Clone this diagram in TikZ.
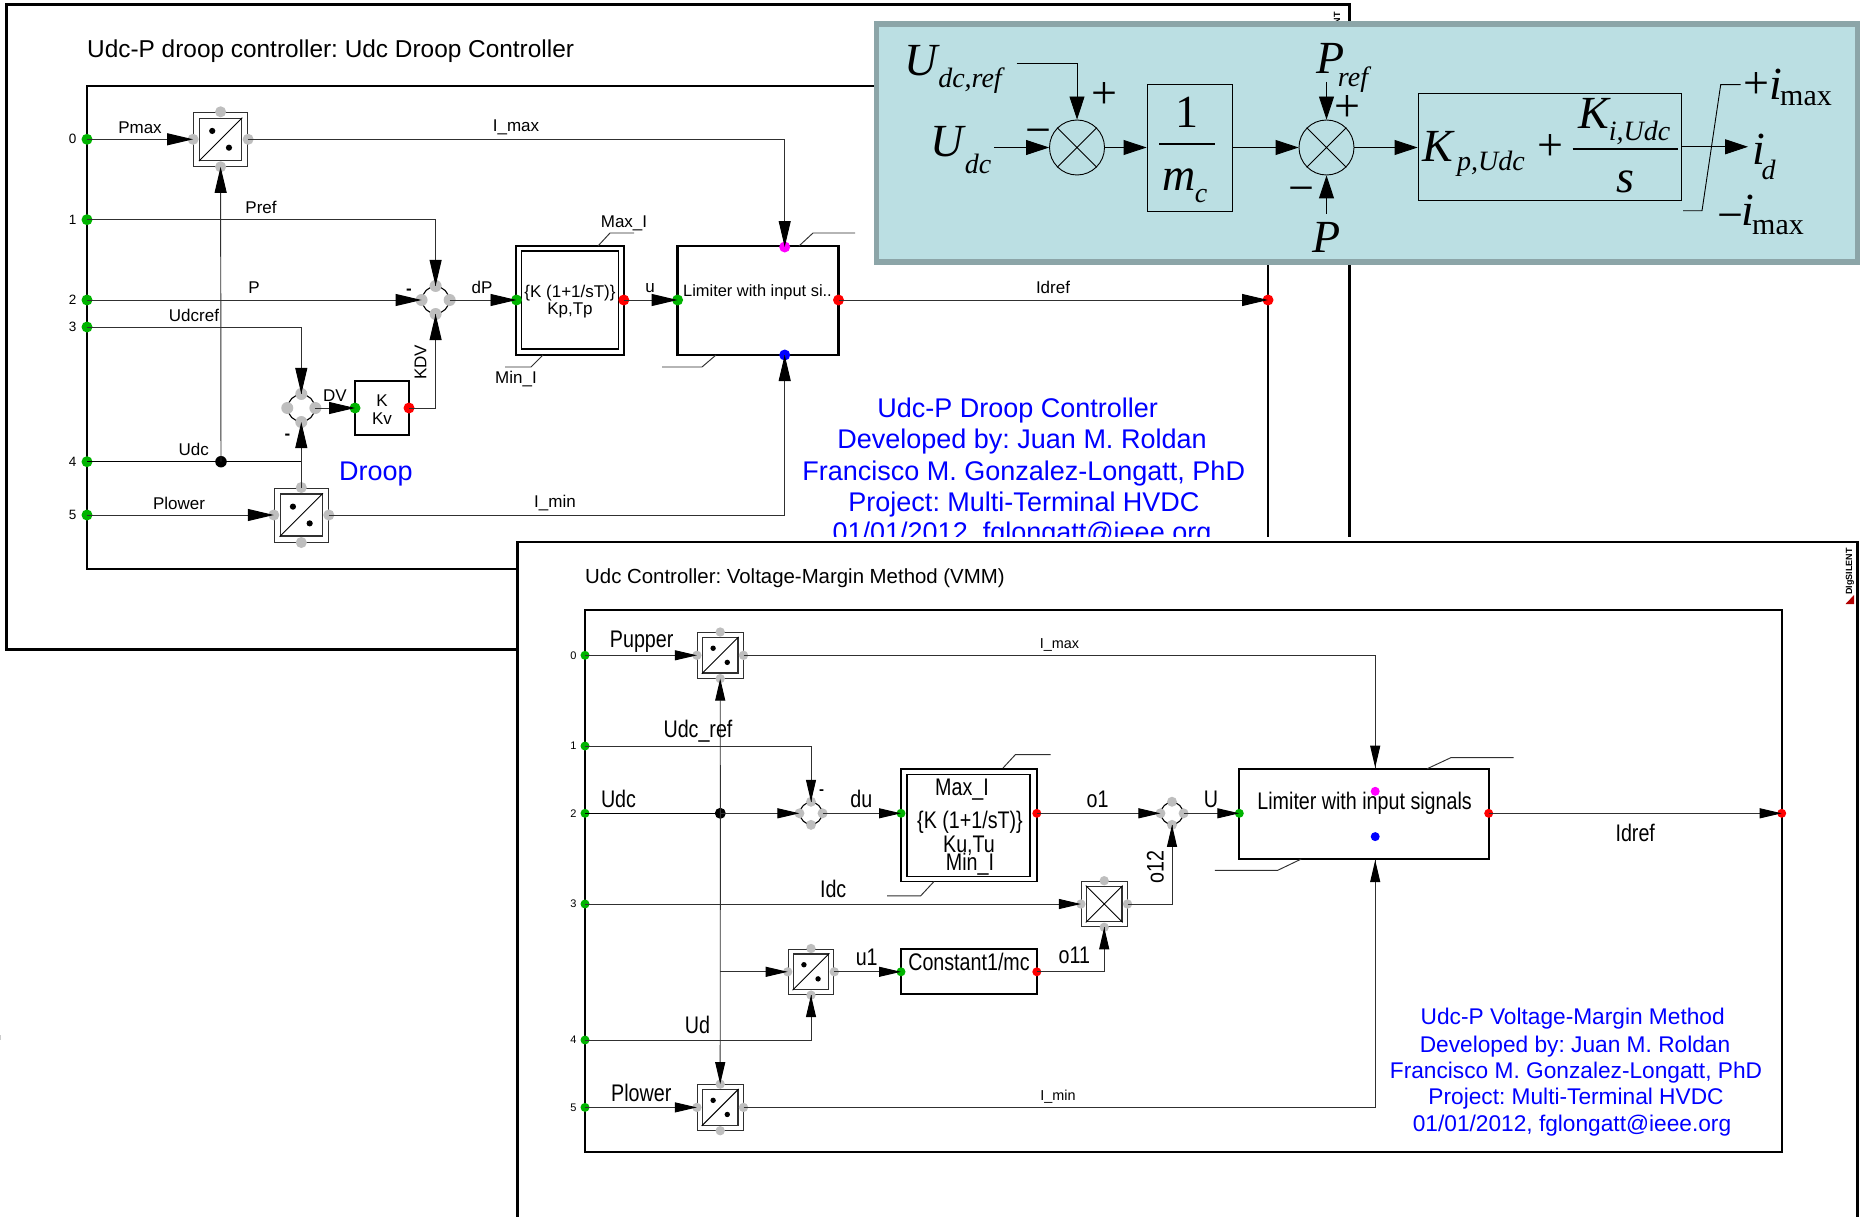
\documentclass[tikz,border=0pt]{standalone}
\usepackage{fontspec}
\setmainfont{Liberation Sans}
\newfontfamily\tim{Liberation Serif}
\newfontfamily\nar[FakeStretch=0.82]{Liberation Sans}
\usetikzlibrary{arrows.meta,calc}
\AtBeginDocument{\frenchspacing}
\definecolor{teal1}{HTML}{BBDFE3}
\definecolor{teal2}{HTML}{8CA5A8}
\definecolor{pgray}{HTML}{BEBEBE}
\definecolor{pgreen}{HTML}{00B400}
\definecolor{pmag}{HTML}{FF00FF}
\definecolor{wgray}{HTML}{303030}
\newcommand{\fs}[1]{\fontsize{#1}{#1}\selectfont}
\tikzset{
 wire/.style={line width=.95pt,draw=wgray},
 bwire/.style={line width=1.5pt,draw=black},
 ta/.style={wire,-{Triangle[length=26pt,width=12pt,fill=black,color=black]}},
 tb/.style={wire,-{Triangle[length=22pt,width=10pt,fill=black,color=black]}},
 tc/.style={line width=.9pt,draw=black,-{Triangle[length=23pt,width=15pt]}},
 tw/.style={line width=.9pt,draw=black},
 port/.style={circle,inner sep=0pt,minimum size=#1},
 l1/.style={inner sep=0pt,yshift=-1.5pt,font=\fs{17}},
 l2/.style={inner sep=0pt,yshift=-2pt,font=\nar\fs{24}},
 num/.style={inner sep=0pt,font=\fs{13.5}},
 bl1/.style={inner sep=0pt,yshift=-3pt,text=blue,font=\fs{27}},
 bl2/.style={inner sep=0pt,yshift=-3pt,text=blue,font=\fs{22.7}},
 blk/.style={draw=black,line width=2.2pt,inner sep=0pt,fill=white},
 mth/.style={inner sep=0pt,font=\tim\itshape\fs{46}},
 mts/.style={inner sep=0pt,font=\tim\itshape\fs{28}},
 mtu/.style={inner sep=0pt,font=\tim\fs{46}},
 mtx/.style={inner sep=0pt,font=\tim\fs{30}},
}
% name, x, y, half size
\newcommand{\MB}[4]{%
 \node[draw=wgray,line width=1pt,fill=white,minimum size=#4*2pt,inner sep=0pt] (#1) at (#2,#3) {};
 \node[draw=wgray,line width=1.25pt,minimum size=#4*1.56pt,inner sep=0pt] (#1i) at (#2,#3) {};
 \node[port=#4*.41pt,fill=pgray] (#1W) at (#1.west) {};
 \node[port=#4*.41pt,fill=pgray] (#1E) at (#1.east) {};
 \node[port=#4*.41pt,fill=pgray] (#1N) at (#1.north) {};
 \node[port=#4*.41pt,fill=pgray] (#1S) at (#1.south) {};
}
\newcommand{\MBdots}[3]{%
 \draw[line width=.9pt] (#1i.south west) -- (#1i.north east);
 \fill (#1)++(-.31*#2,-.31*#2) circle (#3);
 \fill (#1)++(.31*#2,.31*#2) circle (#3);
}
% name, x, y, radius, port size
\newcommand{\SM}[5]{%
 \node[circle,draw=black,line width=1.1pt,minimum size=#4*2pt,inner sep=0pt] (#1) at (#2,#3) {};
 \node[port=#5,fill=pgray] (#1W) at (#1.west) {};
 \node[port=#5,fill=pgray] (#1E) at (#1.east) {};
 \node[port=#5,fill=pgray] (#1N) at (#1.north) {};
 \node[port=#5,fill=pgray] (#1S) at (#1.south) {};
}
\begin{document}
\begin{tikzpicture}[x=1pt,y=-1pt]
\useasboundingbox (0,0) rectangle (1862,1217);
\fill[white] (0,0) rectangle (1862,1217);
\fill[black!20] (0,1035) rectangle (1,1040);
%================ panel 1
\draw[line width=3pt] (6.7,649) -- (6.7,5) -- (1349,5) -- (1349,649) -- cycle;
\draw[line width=1.9pt] (87,86) rectangle (1268,568.6);
\node[inner sep=0pt,anchor=west,font=\fs{24.4}] (t1) at (87,51) {Udc-P droop controller: Udc Droop Controller};
\node[inner sep=0pt,rotate=90,anchor=east,font=\bfseries\fs{9}] (dg1) at (1338,12) {DIgSILENT};
\foreach \n/\y in {0/139.3,1/219.7,2/300,3/327,4/461.7,5/515}{
 \node[port=11pt,fill=pgreen] (a\n) at (87,\y) {};
 \node[num] (an\n) at (72.7,\y) {\n};
}
\MB{am1}{220.6}{139.3}{27}
\MB{am3}{301.3}{515}{27}
\MBdots{am1}{27}{3.1}
\MBdots{am3}{27}{3.1}
\SM{as1}{435.6}{300}{13.5}{12pt}
\SM{as2}{301.3}{408}{13.5}{12pt}
\node[draw=black,line width=1.6pt,fill=white,minimum width=108pt,minimum height=109pt,inner sep=0pt] (api) at (570,300.5) {};
\node[draw=black,line width=1.6pt,minimum width=97pt,minimum height=98pt,inner sep=0pt] (apii) at (570,300) {};
\node[port=11pt,fill=pgreen] (apiW) at (516.5,300) {};
\node[port=11pt,fill=red] (apiE) at (623.8,300) {};
\node[l1] (apit) at (570,291.5) {\{K (1+1/sT)\}};
\node[l1] (apiu) at (570,308.5) {Kp,Tp};
\node[blk,minimum width=161pt,minimum height=109pt] (alim) at (758,300.5) {};
\node[port=11pt,fill=pgreen] (alimW) at (677.6,300) {};
\node[port=11pt,fill=red] (alimE) at (838.5,300) {};
\node[port=11pt,fill=pmag] (alimN) at (784.7,247) {};
\node[port=11pt,fill=blue] (alimS) at (784.7,355) {};
\node[l1,font=\fs{16.4}] (alimt) at (757.5,291) {Limiter with input si..};
\node[blk,minimum width=54pt,minimum height=54pt] (akv) at (382,408) {};
\node[port=11pt,fill=pgreen] (akvW) at (355,408) {};
\node[port=11pt,fill=red] (akvE) at (409,408) {};
\node[l1] (akvt) at (382,399) {K};
\node[l1] (akvu) at (382,417) {Kv};
\node[port=11.5pt,fill=black] (adot) at (221,461.7) {};
\coordinate (aj) at (301.3,461.7);
% wires
\draw[ta] (a0.center) -- (am1W.center);
\draw[wire] (am1E.center) -- (784.7,139.3) coordinate (ab1);
\draw[ta] (ab1) -- (alimN.center);
\draw[wire] (a1.center) -| (as1N.center);
\draw[ta] ($(as1N)+(0,-40)$) -- (as1N.center);
\draw[ta] (a2.center) -- (as1W.center);
\draw[wire] (a3.center) -| (as2N.center);
\draw[ta] ($(as2N)+(0,-40)$) -- (as2N.center);
\draw[bwire] (a4.center) -- (adot.center) -- (aj);
\draw[ta] (adot.center) -- (am1S.center);
\draw[ta] (am3N.center) -- (as2S.center);
\draw[ta] (a5.center) -- (am3W.center);
\draw[ta] (as1E.center) -- (apiW.center);
\draw[ta] (apiE.center) -- (alimW.center);
\draw[ta] (as2E.center) -- (akvW.center);
\draw[wire] (akvE.center) -| (as1S.center);
\draw[ta] ($(as1S)+(0,40)$) -- (as1S.center);
\draw[wire] (am3E.center) -| (alimS.center);
\draw[ta] ($(alimS)+(0,40)$) -- (alimS.center);
\node[port=11pt,fill=red] (aout) at (1268,300) {};
\draw[ta] (alimE.center) -- (aout.center);
% leaders
\coordinate (ala) at (598,246); \coordinate (alb) at (543,355); \coordinate (alc) at (799,246); \coordinate (ald) at (716,355);
\draw[wire] (ala) -- ++(12,-13) -- ++(24,0);
\draw[wire] (alb) -- ++(-12,12) -- ++(-26,0);
\draw[wire] (alc) -- ++(14,-13) -- ++(42,0);
\draw[wire] (ald) -- ++(-14,12) -- ++(-40,0);
% labels
\node[l1] (x1) at (140,126) {Pmax};
\node[l1] (x2) at (516,126) {I\_max};
\node[l1] (x3) at (261,206) {Pref};
\node[l1] (x4) at (254,286) {P};
\node[l1] (x5) at (194,314) {Udcref};
\node[l1] (x6) at (482,286) {dP};
\node[l1] (x7) at (650,287) {u};
\node[l1] (x8) at (335,394) {DV};
\node[l1,rotate=90,yshift=1.5pt] (x9) at (422,361) {KDV};
\node[l1] (x10) at (193.7,448) {Udc};
\node[l1] (x11) at (179,502) {Plower};
\node[l1] (x12) at (555,502) {I\_min};
\node[l1] (x13) at (624,222) {Max\_I};
\node[l1] (x14) at (516,378) {Min\_I};
\node[l1] (x15) at (1053,285.7) {Idref};
\node[l1,font=\bfseries\fs{17}] (x16) at (409,290) {-};
\node[l1,font=\bfseries\fs{17}] (x17) at (287.5,435) {-};
\node[bl1] (d0) at (376,471) {Droop};
\node[bl1] (d1) at (1017.7,408) {Udc-P Droop Controller};
\node[bl1] (d2) at (1022,439) {Developed by: Juan M. Roldan};
\node[bl1] (d3) at (1023.7,471) {Francisco M. Gonzalez-Longatt, PhD};
\node[bl1] (d4) at (1024,502) {Project: Multi-Terminal HVDC};
\node[bl1] (d5) at (1022,532) {01/01/2012, fglongatt@ieee.org};
%================ panel 2
\fill[white] (516,537) rectangle (1862,1217);
\draw[line width=2.6pt] (517.6,1230) -- (517.6,542) -- (1857.7,542) -- (1857.7,1230);
\draw[line width=1.7pt] (585,610) rectangle (1781.7,1152);
\node[inner sep=0pt,anchor=west,font=\fs{20.4}] (t2) at (585,578) {Udc Controller: Voltage-Margin Method (VMM)};
\node[inner sep=0pt,rotate=90,anchor=east,font=\bfseries\fs{9}] (dg2) at (1850,548) {DIgSILENT};
\fill[red!70!black] (1854,604) -- (1854,595) -- (1845.5,604) -- cycle;
\foreach \n/\y in {0/655.3,1/746,2/813.3,3/904,4/1040,5/1107.4}{
 \node[port=9pt,fill=pgreen] (b\n) at (585,\y) {};
 \node[num,font=\fs{11}] (bn\n) at (573.4,\y) {\n};
}
\MB{bm0}{720.2}{655.3}{22.8}
\MB{bm5}{720.2}{1107.4}{22.8}
\MB{bmu}{811}{971.8}{22.8}
\MB{bmx}{1104.2}{904}{22.8}
\MBdots{bm0}{22.8}{2.7}
\MBdots{bm5}{22.8}{2.7}
\MBdots{bmu}{22.8}{2.7}
\draw[line width=.9pt] (bmxi.south west) -- (bmxi.north east) (bmxi.north west) -- (bmxi.south east);
\SM{bs1}{811}{813.3}{11}{10pt}
\SM{bs2}{1172}{813.3}{11}{10pt}
\node[draw=black,line width=1.6pt,fill=white,minimum width=136pt,minimum height=112.7pt,inner sep=0pt] (bpi) at (968.9,825.1) {};
\node[draw=black,line width=1.6pt,minimum width=123pt,minimum height=101.8pt,inner sep=0pt] (bpii) at (968.5,825.4) {};
\node[port=9pt,fill=pgreen] (bpiW) at (901,813.3) {};
\node[port=9pt,fill=red] (bpiE) at (1036.8,813.3) {};
\node[l2] (bpia) at (962,788) {Max\_I};
\node[l2] (bpib) at (970,820) {\{K (1+1/sT)\}};
\node[l2] (bpic) at (969,844) {Ku,Tu};
\node[l2] (bpid) at (970,861.7) {Min\_I};
\node[blk,minimum width=135.8pt,minimum height=44.7pt] (bco) at (968.9,971.6) {};
\node[port=9pt,fill=pgreen] (bcoW) at (901,971.8) {};
\node[port=9pt,fill=red] (bcoE) at (1036.8,971.8) {};
\node[l2] (bcot) at (969,960) {Constant1/mc};
\node[blk,minimum width=249.4pt,minimum height=90.2pt] (blim) at (1364,813.9) {};
\node[port=9pt,fill=pgreen] (blimW) at (1239.3,813.3) {};
\node[port=9pt,fill=red] (blimE) at (1488.7,813.3) {};
\node[port=9pt,fill=pmag] (blimM) at (1375.2,791.3) {};
\node[port=9pt,fill=blue] (blimB) at (1375.2,836.6) {};
\node[l2] (blimt) at (1364.6,801.7) {Limiter with input signals};
\node[port=11pt,fill=black] (bdot) at (720.3,813.3) {};
\coordinate (bju) at (720.3,971.8);
\node[port=9pt,fill=red] (bout) at (1781.7,813.3) {};
% wires
\draw[tb] (b0.center) -- (bm0W.center);
\draw[wire] (bm0E.center) -| (blim.north -| blimM);
\draw[tb] (1375.2,729) coordinate (bq1) -- (bq1 |- blim.north);
\draw[wire] (b1.center) -| (bs1N.center);
\draw[tb] ($(bs1N)+(0,-34)$) -- (bs1N.center);
\draw[bwire] (b2.center) -- (bdot.center);
\draw[tb] (bdot.center) -- (bs1W.center);
\draw[tb] (bdot.center) -- (bm0S.center);
\draw[tb] (bdot.center) -- (bm5N.center);
\draw[tb] (bju) -- (bmuW.center);
\draw[tb] (b3.center) -- (bmxW.center);
\draw[wire] (b4.center) -| (bmuS.center);
\draw[tb] ($(bmuS)+(0,30)$) -- (bmuS.center);
\draw[tb] (b5.center) -- (bm5W.center);
\draw[tb] (bs1E.center) -- (bpiW.center);
\draw[tb] (bpiE.center) -- (bs2W.center);
\draw[tb] (bs2E.center) -- (blimW.center);
\draw[tb] (bmuE.center) -- (bcoW.center);
\draw[wire] (bcoE.center) -| (bmxS.center);
\draw[tb] ($(bmxS)+(0,30)$) -- (bmxS.center);
\draw[wire] (bmxE.center) -| (bs2S.center);
\draw[tb] ($(bs2S)+(0,30)$) -- (bs2S.center);
\draw[wire] (bm5E.center) -| (blim.south -| blimM);
\draw[tb] (1375.2,900) coordinate (bq2) -- (bq2 |- blim.south);
\draw[tb] (blimE.center) -- (bout.center);
% leaders
\coordinate (bla) at (1003,768); \coordinate (blb) at (934,881.5); \coordinate (blc) at (1427,768.8); \coordinate (bld) at (1301.3,859);
\draw[wire] (bla) -- ++(12.4,-13.4) -- ++(35.2,0);
\draw[wire] (blb) -- ++(-13.3,14.3) -- ++(-33.7,0);
\draw[wire] (blc) -- ++(24,-11.2) -- ++(62.6,0);
\draw[wire] (bld) -- ++(-23.6,11.3) -- ++(-62.9,0);
% labels
\node[l2] (y1) at (641.7,639.3) {Pupper};
\node[inner sep=0pt,font=\fs{14.4},yshift=-1pt] (y2) at (1059.5,644) {I\_max};
\node[l2] (y3) at (698,728.7) {Udc\_ref};
\node[l2] (y4) at (618.5,796.5) {Udc};
\node[l2] (y5) at (861.3,797.3) {du};
\node[l2] (y6) at (1097.5,797.3) {o1};
\node[l2] (y7) at (1211,797) {U};
\node[l2] (y8) at (833.2,887) {Idc};
\node[l2,rotate=90,yshift=2pt] (y9) at (1157.3,864.7) {o12};
\node[l2] (y10) at (866.7,955.4) {u1};
\node[l2] (y11) at (1074.3,953) {o11};
\node[l2] (y12) at (697.5,1022.7) {Ud};
\node[l2] (y13) at (641.3,1091) {Plower};
\node[inner sep=0pt,font=\fs{14.4},yshift=-1pt] (y14) at (1058,1096) {I\_min};
\node[l2] (y15) at (1635.2,831.4) {Idref};
\node[l1,font=\bfseries\fs{15}] (y16) at (821.6,790.4) {-};
\node[bl2] (e1) at (1572.7,1016) {Udc-P Voltage-Margin Method};
\node[bl2] (e2) at (1575,1043.5) {Developed by: Juan M. Roldan};
\node[bl2] (e3) at (1576,1069.4) {Francisco M. Gonzalez-Longatt, PhD};
\node[bl2] (e4) at (1576,1096) {Project: Multi-Terminal HVDC};
\node[bl2] (e5) at (1572,1122.5) {01/01/2012, fglongatt@ieee.org};
%================ teal panel
\node[draw=teal2,fill=teal1,line width=5.5pt,minimum width=981pt,minimum height=238pt,inner sep=0pt] (tp) at (1367,143) {};
\node[mth] (u1) at (920.7,60.7) {U};
\node[mts] (u1s) at (970,81) {dc,ref};
\node[mth] (u2) at (947.5,141.8) {U};
\node[mts] (u2s) at (978,164) {dc};
\node[circle,draw=black,line width=.9pt,minimum size=55pt,inner sep=0pt] (ts1) at (1077,147.5) {};
\draw[tw] (ts1.north west) -- (ts1.south east) (ts1.north east) -- (ts1.south west);
\node[circle,draw=black,line width=.9pt,minimum size=55pt,inner sep=0pt] (ts2) at (1326.5,147.5) {};
\draw[tw] (ts2.north west) -- (ts2.south east) (ts2.north east) -- (ts2.south west);
\node[draw=black,line width=.9pt,minimum width=85pt,minimum height=127pt,inner sep=0pt] (tb1) at (1189.5,148) {};
\node[draw=black,line width=.9pt,minimum width=263pt,minimum height=107.4pt,inner sep=0pt] (tb2) at (1549.5,146.7) {};
\node[mtu] (o1) at (1187,112.5) {1};
\coordinate (fa) at (1159,143.6); \coordinate (fb) at (1215,143.6);
\draw[line width=2pt] (fa) -- (fb);
\node[mth] (m1) at (1179.5,180) {m};
\node[mts] (m1s) at (1201,196) {c};
\node[mth] (p1) at (1331,58) {P};
\node[mts] (p1s) at (1353,80) {ref};
\node[mth] (p2) at (1326.5,237.5) {P};
\node[mtu] (pm1) at (1104,96) {+};
\node[mtu] (pm2) at (1038,137) {−};
\node[mtu] (pm3) at (1347,109) {+};
\node[mtu] (pm4) at (1301.5,195) {−};
\node[mth] (k1) at (1438,146.4) {K};
\node[mts] (k1s) at (1491,164) {p,Udc};
\node[mtu] (pm5) at (1550,148) {+};
\node[mth] (k2) at (1593.5,113.6) {K};
\node[mts] (k2s) at (1639.5,133) {i,Udc};
\coordinate (fc) at (1572.5,149.3); \coordinate (fd) at (1678,149.3);
\draw[line width=2pt] (fc) -- (fd);
\node[mth] (s1) at (1625,182) {s};
\node[mth] (i1) at (1759,149) {i};
\node[mts] (i1s) at (1768.6,169.6) {d};
\node[mtu] (pm6) at (1756,86) {+};
\node[mth] (i2) at (1776,84) {i};
\node[mtx] (i2s) at (1806,99) {max};
\node[mtu] (pm7) at (1730,222) {−};
\node[mth] (i3) at (1748,210) {i};
\node[mtx] (i3s) at (1778,227.5) {max};
\coordinate (ca) at (1016.5,63); \coordinate (cb) at (994,147.5); \coordinate (cc) at (1326.5,82); \coordinate (cd) at (1326.5,213.6);
\coordinate (ce) at (1748,146.8);
\draw[tc] (ca) -| (ts1.north);
\draw[tc] (cb) -- (ts1.west);
\draw[tc] (ts1.east) -- (tb1.west |- ts1);
\draw[tc] (tb1.east |- ts1) -- (ts2.west);
\draw[tc] (cc) -- (ts2.north);
\draw[tc] (cd) -- (ts2.south);
\draw[tc] (ts2.east) -- (tb2.west |- ts2);
\draw[tc] (tb2.east |- ce) -- (ce);
\coordinate (la) at (1683,210.7); \coordinate (lb) at (1740.5,84.6);
\draw[tw] (la) -- (1702,210.7) -- (1720.7,84.6) -- (lb);
\end{tikzpicture}
\end{document}
